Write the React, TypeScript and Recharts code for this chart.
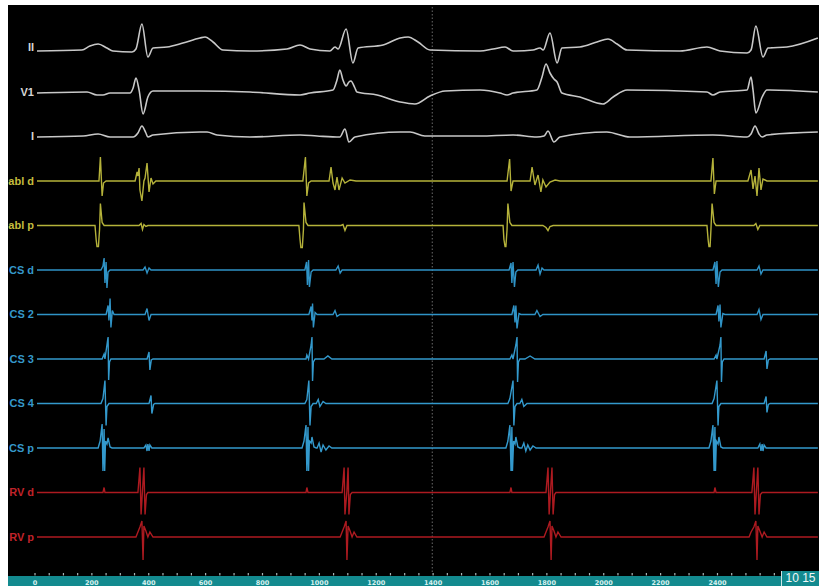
import React from 'react';
import { LineChart, Line, XAxis, YAxis, ReferenceLine } from 'recharts';

// ---- channel names & colours ----
const CHANNEL_NAMES = ['II', 'V1', 'I', 'abl d', 'abl p', 'CS d', 'CS 2', 'CS 3', 'CS 4', 'CS p', 'RV d', 'RV p'];
const TRACE_COLORS = ['#c8c8c8', '#c8c8c8', '#c8c8c8', '#b5b23a', '#b5b23a', '#2f93c6', '#2f93c6', '#3399cc', '#3399cc', '#3399cc', '#ad1a20', '#ad1a20'];
const LABEL_COLORS = ['#d6d6d6', '#d6d6d6', '#d6d6d6', '#c4bd3e', '#c4bd3e', '#3598ca', '#3598ca', '#3598ca', '#3598ca', '#3598ca', '#c0232a', '#c0232a'];

// ---- time axis ticks (ms) ----
const TIME_TICKS = Array.from({ length: 53 }, (_, i) => i * 50);
const TIME_LABEL_MAX = 2400;
const CURSOR_MS = 1397;
const SWEEP_LABEL = '10 15';

// ---- signals: [time ms, amplitude] ----
const II: [number, number][] = [
  [7, -3.5], [165, -2.5], [193, 1.5], [222, 3.5], [253, -0.5], [274, -3.5], [341, -4.5], [355, -1.5], [376, 23.5], [397, -9.5], [415, -0.5],
  [464, 0.5], [520, 4.5], [580, 9.5], [598, 10.5], [626, 5.5], [661, -2.5], [756, -3.5], [886, -1.5], [932, 2.5], [967, -1.5], [1037, -3.5],
  [1055, 0.5], [1066, -1.5], [1094, 18.5], [1118, -15.5], [1136, -0.5], [1224, 2.5], [1284, 9.5], [1312, 10.5], [1347, 5.5], [1389, -2.5],
  [1565, -3.5], [1611, -1.5], [1653, 0.5], [1681, -3.5], [1751, -2.5], [1776, -0.5], [1787, -2.5], [1811, 14.5], [1836, -15.5], [1853, -0.5],
  [1916, 0.5], [1976, 5.5], [2015, 8.5], [2047, 3.5], [2082, -2.5], [2268, -3.5], [2363, 0.5], [2409, -3.5], [2504, -5.5], [2518, -2.5],
  [2535, 21.5], [2560, -9.5], [2578, -0.5], [2644, 0.5], [2753, 9.5],
];
const V1: [number, number][] = [
  [7, -1], [183, 0], [218, -3], [239, -3], [264, -1], [334, -1], [345, 4], [355, 14], [366, 2], [380, -22], [397, -5], [415, 1], [580, 1],
  [756, 0], [932, -3], [967, -1], [1048, 2], [1062, 12], [1072, 22], [1083, 12], [1094, 6], [1104, 10], [1111, 11], [1125, 4], [1132, 0],
  [1203, -3], [1284, -10], [1336, -12], [1389, -4], [1442, 1], [1565, 2], [1635, -1], [1660, -3], [1681, -1], [1765, 2], [1783, 15],
  [1797, 28], [1811, 19], [1825, 13], [1836, 10], [1853, -1], [1916, -5], [1997, -12], [2033, -5], [2082, 2], [2363, 0], [2384, -3],
  [2409, 0], [2504, 2], [2518, 15], [2525, 2], [2535, -21], [2557, -5], [2574, 2], [2753, 0],
];
const LEAD_I: [number, number][] = [
  [7, -0.5], [169, 0.5], [222, 2.5], [264, -0.5], [345, -0.5], [362, 3.5], [376, 10.5], [390, 3.5], [397, -0.5], [415, 1.5], [580, 4.5],
  [605, 4.5], [640, 1.5], [756, -0.5], [932, 1.5], [992, 0.5], [1072, -0.5], [1090, 7.5], [1104, -5.5], [1125, -0.5], [1284, 4.5],
  [1319, 4.5], [1371, 0.5], [1565, 0.5], [1681, 1.5], [1765, -0.5], [1790, 0.5], [1804, 5.5], [1825, -5.5], [1846, -0.5], [2011, 4.5],
  [2092, -0.5], [2384, 1.5], [2504, -0.5], [2518, 2.5], [2532, 10.5], [2546, 2.5], [2557, -0.5], [2574, 1.5], [2753, 4.5],
];
const ABL_D: [number, number][] = [
  [7, 0], [225, 0], [230, 24], [236, -15], [241, -2], [250, 0],
  [352, 0], [359, 9], [362, 5], [366, 13], [369, -9], [376, -20], [383, 0], [387, 3], [394, 18], [401, -11], [408, 3], [415, -3], [425, 0],
  [942, 0], [951, 24], [956, -15], [962, -2], [971, 0],
  [1034, 0], [1041, 14], [1048, -2], [1055, -9], [1062, 4], [1069, -9], [1080, 3], [1090, -2], [1108, 1], [1129, 0],
  [1660, 0], [1669, 22], [1674, -10], [1681, 0],
  [1741, 0], [1748, 14], [1758, -4], [1769, 6], [1779, -11], [1786, 1], [1797, -6], [1811, -1], [1829, 1], [1846, 0],
  [2377, 0], [2384, 23], [2389, -13], [2395, 0],
  [2507, 0], [2518, 11], [2525, -8], [2532, 5], [2539, -15], [2546, 13], [2553, -9], [2560, 2], [2574, 0], [2753, 0],
];
const ABL_P: [number, number][] = [
  [7, 0], [211, 0], [215, -14], [218, -21], [223, -21], [227, -4], [230, 22], [236, 3], [243, 0],
  [366, 0], [373, 2], [378, -4], [383, 1], [390, -1], [397, 0],
  [928, 0], [932, -14], [935, -22], [940, -22], [944, -4], [946, 23], [953, 3], [960, 0],
  [1076, 0], [1083, 1], [1090, -5], [1097, 0], [1104, 0],
  [1646, 0], [1649, -14], [1653, -21], [1656, -21], [1660, -4], [1663, 22], [1670, 3], [1677, 0],
  [1786, 0], [1797, -2], [1804, -5], [1811, -1], [1822, 0],
  [2363, 0], [2367, -14], [2370, -21], [2374, -21], [2377, -4], [2381, 22], [2388, 3], [2395, 0],
  [2528, 0], [2535, 2], [2542, -4], [2549, 0], [2753, 0],
];
const CS_D: [number, number][] = [
  [7, 0], [232, 0], [239, 4], [243, 12], [246, -13], [250, 8], [253, -18], [257, -2], [264, 0],
  [380, 0], [387, 3], [394, -3], [401, 2], [408, 0],
  [949, 0], [955, 8], [958, -15], [962, 10], [965, -17], [971, -2], [978, 0],
  [1058, 0], [1066, 4], [1073, -3], [1080, 0],
  [1667, 0], [1674, 7], [1677, -13], [1681, 8], [1686, -17], [1691, -2], [1698, 0],
  [1762, 0], [1769, 5], [1776, -4], [1783, 2], [1790, 0],
  [2384, 0], [2391, 8], [2395, -14], [2398, 9], [2403, -17], [2409, -2], [2416, 0],
  [2539, 0], [2546, 4], [2553, -4], [2560, 0], [2753, 0],
];
const CS_2: [number, number][] = [
  [7, 0], [250, 0], [257, 9], [260, -6], [264, 16], [267, -13], [272, 4], [278, 0],
  [387, 0], [394, 6], [401, -6], [408, 0],
  [963, 0], [971, 8], [974, -6], [976, 11], [979, -13], [985, 2], [992, 0],
  [1048, 0], [1055, 4], [1062, -2], [1072, 0],
  [1677, 0], [1684, 9], [1688, -8], [1691, 9], [1695, -14], [1702, 1], [1709, 0],
  [1758, 0], [1765, 4], [1776, -2], [1786, 0],
  [2395, 0], [2402, 9], [2405, -7], [2409, 10], [2412, -13], [2419, 1], [2426, 0],
  [2539, 0], [2546, 5], [2553, -5], [2560, 0], [2753, 0],
];
const CS_3: [number, number][] = [
  [7, 0], [236, 0], [243, 5], [246, 0], [253, 14], [257, 22], [259, -21], [262, -3], [267, 0],
  [394, 0], [401, 7], [404, -11], [409, -1], [415, 0],
  [953, 0], [956, 4], [962, 0], [971, 14], [974, 22], [976, -22], [979, -3], [985, 0],
  [1016, 0], [1030, 3], [1044, 0],
  [1670, 0], [1677, 4], [1681, 0], [1691, 14], [1695, 22], [1697, -23], [1700, -3], [1705, 0],
  [1723, 0], [1741, 3], [1758, 0],
  [2388, 0], [2395, 4], [2398, 0], [2409, 14], [2412, 22], [2414, -23], [2417, -3], [2423, 0],
  [2564, 0], [2571, 8], [2574, -10], [2579, -1], [2585, 0], [2753, 0],
];
const CS_4: [number, number][] = [
  [7, 0], [232, 0], [239, 5], [246, 23], [250, -22], [253, -3], [260, 0],
  [401, 0], [408, 8], [411, -10], [417, -1], [422, 0],
  [949, 0], [956, 4], [963, 23], [967, -22], [971, -3], [978, 0],
  [989, 0], [996, 4], [1002, -3], [1013, 2], [1023, 0],
  [1663, 0], [1670, 5], [1681, 23], [1684, -22], [1688, -3], [1695, 0],
  [1705, 0], [1712, 4], [1719, -3], [1730, 0],
  [2381, 0], [2388, 5], [2398, 23], [2402, -22], [2405, -3], [2412, 0],
  [2564, 0], [2571, 7], [2574, -9], [2579, -1], [2585, 0], [2753, 0],
];
const CS_P: [number, number][] = [
  [7, 0], [222, 0], [229, 7], [236, 24], [239, -23], [243, 19], [245, -23], [248, 7], [253, 4], [257, 10], [264, 1], [271, 0],
  [383, 0], [390, 3], [394, -3], [397, 4], [401, -3], [404, 3], [411, 0],
  [939, 0], [946, 7], [953, 23], [956, -23], [960, 21], [962, -23], [965, 7], [971, 5], [974, 11], [981, 1], [989, 0],
  [992, 0], [999, 5], [1006, -4], [1013, 3], [1023, -2], [1034, 2], [1044, 0],
  [1656, 0], [1663, 7], [1670, 23], [1674, -23], [1677, 21], [1679, -23], [1683, 7], [1688, 4], [1691, 11], [1698, 1], [1705, 0],
  [1712, 0], [1719, 5], [1726, -3], [1733, 3], [1741, -2], [1751, 2], [1762, 0],
  [2370, 0], [2377, 7], [2384, 23], [2388, -23], [2391, 21], [2393, -23], [2396, 7], [2402, 4], [2405, 11], [2412, 1], [2419, 0],
  [2542, 0], [2549, 4], [2553, -3], [2557, 4], [2560, -3], [2564, 3], [2571, 0], [2753, 0],
];
const RV_D: [number, number][] = [
  [7, 0], [239, 0], [243, 5], [246, 0],
  [362, 0], [369, 25], [373, -22], [378, 2], [383, 25], [387, -22], [392, -2], [397, 0],
  [953, 0], [956, 5], [960, 0],
  [1080, 0], [1087, 25], [1090, -22], [1097, 2], [1101, 25], [1104, -22], [1109, -2], [1115, 0],
  [1670, 0], [1674, 5], [1677, 0],
  [1797, 0], [1804, 25], [1808, -22], [1813, 2], [1818, 25], [1822, -22], [1827, -2], [1832, 0],
  [2388, 0], [2391, 5], [2395, 0],
  [2521, 0], [2528, 25], [2532, -22], [2537, 2], [2542, 25], [2546, -22], [2551, -2], [2557, 0], [2753, 0],
];
const RV_P: [number, number][] = [
  [7, 0], [355, 0], [362, 5], [369, 10], [376, 16], [380, -23], [383, 11], [390, 6], [397, 0], [404, 5], [415, 0],
  [1073, 0], [1080, 5], [1087, 10], [1094, 16], [1097, -23], [1101, 11], [1108, 6], [1115, 0], [1122, 5], [1132, 0],
  [1790, 0], [1797, 5], [1804, 10], [1811, 16], [1815, -23], [1818, 11], [1825, 6], [1832, 0], [1839, 5], [1850, 0],
  [2511, 0], [2518, 5], [2528, 10], [2535, 16], [2539, -23], [2542, 11], [2549, 6], [2557, 0], [2564, 5], [2574, 0], [2753, 0],
];

const SIGNALS = [II, V1, LEAD_I, ABL_D, ABL_P, CS_D, CS_2, CS_3, CS_4, CS_P, RV_D, RV_P];

// ---- layout ----
const W = 811;
const H = 581;
const LANE_GAP = 44.5;
const X_DOMAIN: [number, number] = [0, 2757];
const Y_DOMAIN: [number, number] = [-524.5, 42.5];
const TEAL = '#138a8f';

const series = SIGNALS.map((sig, i) => sig.map(([t, a]) => ({ t, v: a - i * LANE_GAP })));
const laneTicks = CHANNEL_NAMES.map((_, i) => -i * LANE_GAP);

const LaneLabel = (props: any) => {
  const { x, y, payload } = props;
  const idx = Math.round(-payload.value / LANE_GAP);
  return (
    <text x={x} y={y} dy="0.36em" textAnchor="end" fill={LABEL_COLORS[idx]}
      fontFamily="Liberation Sans, Arial, sans-serif" fontWeight="bold" fontSize={11}>
      {CHANNEL_NAMES[idx]}
    </text>
  );
};

const TimeTick = (props: any) => {
  const { x, y, payload } = props;
  const v = payload.value as number;
  return (
    <g>
      <rect x={x - 0.6} y={y + 1} width={1.2} height={2.4} fill="#a8b8b8" />
      {v % 200 === 0 && v <= TIME_LABEL_MAX && (
        <text x={x} y={y + 12.5} textAnchor="middle" fill="#d8f2f0"
          fontFamily="DejaVu Sans, sans-serif" fontWeight="bold" fontSize={6.5}>
          {v}
        </text>
      )}
    </g>
  );
};

export default function App() {
  return (
    <div style={{ position: 'fixed', left: 8, top: 5, width: W, height: H, background: '#000', overflow: 'hidden' }}>
      <div style={{ position: 'absolute', left: 0, top: 571, width: 773, height: 10, background: TEAL }} />
      <div style={{ position: 'absolute', left: 773, top: 566, width: 1, height: 15, background: '#cfe6e6' }} />
      <div style={{
        position: 'absolute', left: 774, top: 566, width: 37, height: 15, background: TEAL, color: '#f2f8f8',
        fontFamily: 'Liberation Sans, Arial, sans-serif', fontSize: 12, lineHeight: '15px', textAlign: 'center', whiteSpace: 'pre',
      }}>{SWEEP_LABEL}</div>
      <LineChart width={W} height={H} margin={{ top: 0, right: 0, bottom: 0, left: 0 }}>
        <XAxis type="number" dataKey="t" domain={X_DOMAIN} allowDataOverflow ticks={TIME_TICKS} interval={0}
          height={14} axisLine={false} tickLine={false} tickSize={0} tickMargin={0} tick={<TimeTick />} />
        <YAxis type="number" domain={Y_DOMAIN} allowDataOverflow ticks={laneTicks} interval={0} width={27}
          axisLine={false} tickLine={false} tickSize={0} tickMargin={1} tick={<LaneLabel />} />
        <ReferenceLine x={CURSOR_MS} stroke="#6a6a6a" strokeDasharray="1.5 2" strokeWidth={1} />
        {series.map((d, i) => (
          <Line key={CHANNEL_NAMES[i]} data={d} dataKey="v" type={i < 3 ? 'monotone' : 'linear'}
            stroke={TRACE_COLORS[i]} strokeWidth={i < 3 ? 1.6 : 1.4} dot={false} isAnimationActive={false} />
        ))}
      </LineChart>
    </div>
  );
}
